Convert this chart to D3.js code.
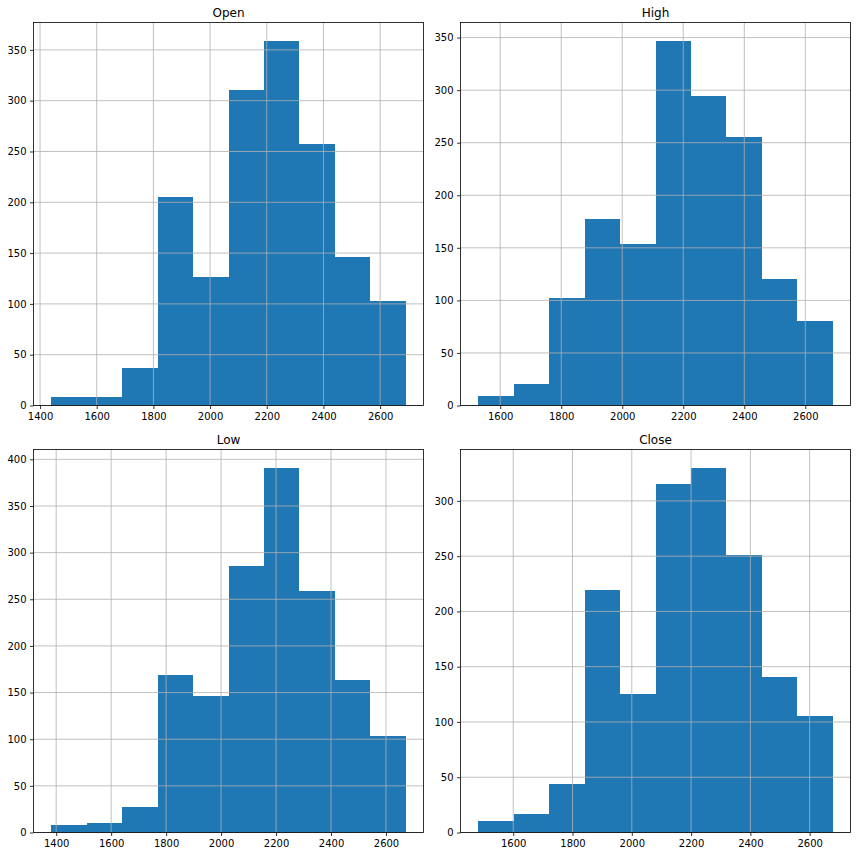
<!DOCTYPE html>
<html>
<head>
<meta charset="utf-8">
<script src="https://cdn.jsdelivr.net/npm/d3@7"></script>
<style>
  html, body { margin: 0; padding: 0; background: #fff; }
  text { font-family: "DejaVu Sans", sans-serif; fill: #000; }
</style>
</head>
<body>
<svg id="chart" width="856" height="856"></svg>
<script>
// ---- data ----
const titles = ["Open", "High", "Low", "Close"];
const binMin = [1439.5, 1528, 1382, 1482];
const binMax = [2690.5, 2690, 2672, 2678];
const openCounts  = [8, 8, 37, 205, 126, 311, 359, 257, 146, 103];
const highCounts  = [9, 20, 102, 177, 154, 347, 294, 255, 120, 80];
const lowCounts   = [8, 10, 27, 169, 146, 286, 391, 259, 164, 103];
const closeCounts = [10, 17, 44, 219, 125, 315, 330, 251, 141, 105];
const allCounts = [openCounts, highCounts, lowCounts, closeCounts];
const xTickStep = 200;
const yTickStep = 50;

// ---- layout ----
const svg = d3.select("#chart");
const panelX = [33.5, 460.5];
const panelY = [22.5, 449.5];
const pw = 390, ph = 383;
const barColor = "#1f77b4";
const gridColor = "#b0b0b0";

titles.forEach((title, i) => {
  const counts = allCounts[i];
  const lo = binMin[i], hi = binMax[i];
  const n = counts.length;
  const w = (hi - lo) / n;
  const bins = counts.map((c, k) => ({x0: lo + k * w, x1: lo + (k + 1) * w, c}));
  const pad = (hi - lo) * 0.05;
  const yMax = d3.max(counts) * 1.05;

  const x = d3.scaleLinear().domain([lo - pad, hi + pad]).range([0, pw]);
  const y = d3.scaleLinear().domain([0, yMax]).range([ph, 0]);

  const g = svg.append("g")
    .attr("transform", `translate(${panelX[i % 2]},${panelY[Math.floor(i / 2)]})`);

  const xt = d3.range(Math.ceil((lo - pad) / xTickStep) * xTickStep, hi + pad, xTickStep);
  const yt = d3.range(0, yMax, yTickStep);

  // bars
  g.append("g").selectAll("rect").data(bins).join("rect")
    .attr("x", d => x(d.x0))
    .attr("width", d => x(d.x1) - x(d.x0))
    .attr("y", d => y(d.c))
    .attr("height", d => y(0) - y(d.c))
    .attr("fill", barColor)
    .attr("shape-rendering", "crispEdges");

  // grid (drawn over bars)
  const grid = g.append("g");
  grid.selectAll("line.vx").data(xt).join("line")
    .attr("x1", d => x(d)).attr("x2", d => x(d))
    .attr("y1", 0).attr("y2", ph)
    .attr("stroke", gridColor).attr("stroke-width", 0.8);
  grid.selectAll("line.hy").data(yt).join("line")
    .attr("x1", 0).attr("x2", pw)
    .attr("y1", d => y(d)).attr("y2", d => y(d))
    .attr("stroke", gridColor).attr("stroke-width", 0.8);

  // axes
  const xAxis = d3.axisBottom(x).tickValues(xt).tickSize(3.5).tickPadding(3.5).tickFormat(d3.format("d"));
  const yAxis = d3.axisLeft(y).tickValues(yt).tickSize(3.5).tickPadding(3.5).tickFormat(d3.format("d"));
  const gx = g.append("g").attr("transform", `translate(0,${ph})`).call(xAxis);
  const gy = g.append("g").call(yAxis);
  [gx, gy].forEach(a => {
    a.select(".domain").remove();
    a.selectAll(".tick line").attr("stroke", "#000").attr("stroke-width", 0.8);
    a.selectAll(".tick text").attr("font-size", 10).attr("font-family", "DejaVu Sans, sans-serif").attr("fill", "#000");
  });

  // frame (spines)
  g.append("rect").attr("x", 0).attr("y", 0).attr("width", pw).attr("height", ph)
    .attr("fill", "none").attr("stroke", "#000").attr("stroke-width", 0.8);

  // title
  g.append("text").attr("x", pw / 2).attr("y", -5.5)
    .attr("text-anchor", "middle").attr("font-size", 12).text(title);
});
</script>
</body>
</html>
